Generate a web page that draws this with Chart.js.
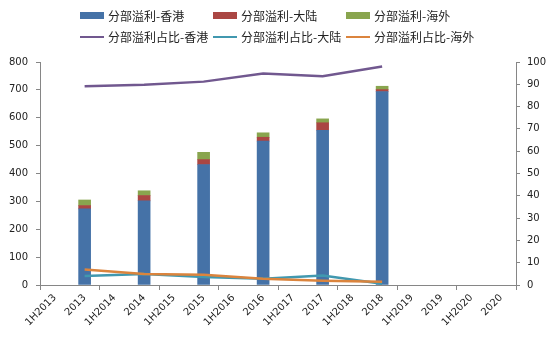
<!DOCTYPE html>
<html>
<head>
<meta charset="utf-8">
<script src="https://cdn.jsdelivr.net/npm/chart.js@4/dist/chart.umd.min.js"></script>
<style>
  html, body { margin: 0; padding: 0; background: #fff; }
  #wrap { position: relative; width: 554px; height: 348px; }
  #legend { position: absolute; left: 0; top: 0; width: 554px; height: 50px;
    font-family: "Noto Sans CJK SC", sans-serif; font-size: 12px; color: #222; }
  .item { position: absolute; display: flex; align-items: center; white-space: nowrap; }
  .sw { display: inline-block; width: 24px; margin-right: 4px; }
</style>
</head>
<body>
<div id="wrap">
  <canvas id="chart" width="554" height="348"></canvas>
  <div id="legend"></div>
</div>
<script>
// 分类（半年/全年），只有全年有数据
var categories = ["1H2013", "2013", "1H2014", "2014", "1H2015", "2015", "1H2016", "2016",
  "1H2017", "2017", "1H2018", "2018", "1H2019", "2019", "1H2020", "2020"];

// 分部溢利（左轴）
var profitHK = [null, 273, null, 302, null, 432, null, 516, null, 555, null, 694, null, null, null, null];
var profitML = [null, 12, null, 19, null, 18, null, 14, null, 27, null, 7, null, null, null, null];
var profitOS = [null, 20, null, 17, null, 26, null, 16, null, 14, null, 12, null, null, null, null];

// 分部溢利占比 %（右轴）
var shareHK = [null, 89.1, null, 89.8, null, 91.2, null, 94.8, null, 93.6, null, 98.0, null, null, null, null];
var shareML = [null, 4.0, null, 4.9, null, 3.6, null, 2.8, null, 4.3, null, 0.6, null, null, null, null];
var shareOS = [null, 6.9, null, 4.9, null, 4.6, null, 2.8, null, 1.9, null, 1.5, null, null, null, null];

var leftTicks = [0, 100, 200, 300, 400, 500, 600, 700, 800];
var rightTicks = [0, 10, 20, 30, 40, 50, 60, 70, 80, 90, 100];

var names = ["分部溢利-香港", "分部溢利-大陆", "分部溢利-海外",
  "分部溢利占比-香港", "分部溢利占比-大陆", "分部溢利占比-海外"];
var colors = ["#4572A7", "#AA4643", "#89A54E", "#71588F", "#4198AF", "#DB843D"];

// 图例（两行三列）
var legend = document.getElementById("legend");
names.forEach(function (name, i) {
  var row = Math.floor(i / 3), col = i % 3;
  var el = document.createElement("div");
  el.className = "item";
  el.style.left = (80 + col * 133) + "px";
  el.style.top = (row === 0 ? 7 : 28) + "px";
  var sw = document.createElement("span");
  sw.className = "sw";
  sw.style.background = colors[i];
  sw.style.height = row === 0 ? "7px" : "2px";
  el.appendChild(sw);
  el.appendChild(document.createTextNode(name));
  legend.appendChild(el);
});

var axisColor = "#868686";
var tickFont = { family: "DejaVu Sans", size: 10 };

function bar(i, data) {
  return {
    type: "bar", label: names[i], data: data, backgroundColor: colors[i],
    stack: "s", yAxisID: "y", barThickness: 12, order: 10
  };
}
function line(i, data, order) {
  return {
    type: "line", label: names[i], data: data, borderColor: colors[i],
    backgroundColor: colors[i], borderWidth: 2.5, pointRadius: 0, tension: 0,
    spanGaps: true, yAxisID: "y1", order: order
  };
}

var ctx = document.getElementById("chart").getContext("2d");
var myChart = new Chart(ctx, {
  type: "bar",
  data: {
    labels: categories,
    datasets: [
      bar(0, profitHK), bar(1, profitML), bar(2, profitOS),
      line(3, shareHK, 3), line(4, shareML, 2), line(5, shareOS, 1)
    ]
  },
  options: {
    responsive: false,
    animation: false,
    devicePixelRatio: 1,
    layout: { padding: { top: 62, left: 0, right: 0, bottom: 0 } },
    plugins: { legend: { display: false }, tooltip: { enabled: false } },
    scales: {
      x: {
        type: "category",
        offset: true,
        stacked: true,
        grid: {
          offset: true, drawOnChartArea: false, drawTicks: true, tickLength: 5,
          color: function (c) { return (c.index === undefined || c.index % 2 === 0) ? axisColor : "rgba(0,0,0,0)"; }
        },
        border: { color: axisColor, width: 1 },
        ticks: { autoSkip: false, minRotation: 45, maxRotation: 45, font: tickFont, color: "#222", padding: 2 },
        afterFit: function (s) { s.height = 63; }
      },
      y: {
        position: "left",
        stacked: true,
        min: 0, max: 800,
        afterBuildTicks: function (s) { s.ticks = leftTicks.map(function (v) { return { value: v }; }); },
        grid: { drawOnChartArea: false, drawTicks: true, tickLength: 4, color: axisColor },
        border: { color: axisColor, width: 1 },
        ticks: { font: tickFont, color: "#222", padding: 8 },
        afterFit: function (s) { s.width = 40; }
      },
      y1: {
        position: "right",
        min: 0, max: 100,
        afterBuildTicks: function (s) { s.ticks = rightTicks.map(function (v) { return { value: v }; }); },
        grid: { drawOnChartArea: false, drawTicks: true, tickLength: 4, color: axisColor },
        border: { color: axisColor, width: 1 },
        ticks: { font: tickFont, color: "#222", padding: 7 },
        afterFit: function (s) { s.width = 38; }
      }
    }
  }
});
</script>
</body>
</html>
